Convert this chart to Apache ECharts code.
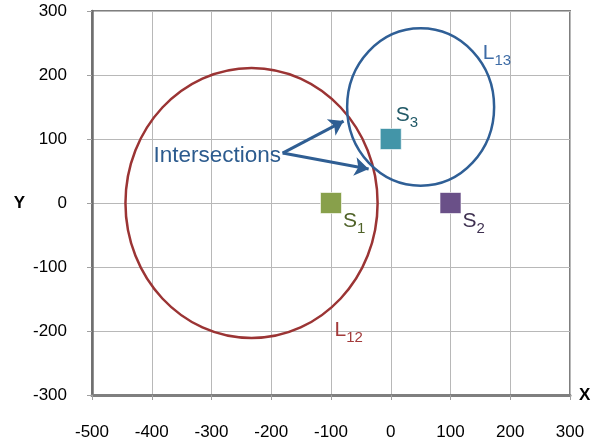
<!DOCTYPE html>
<html>
<head>
<meta charset="utf-8">
<script src="https://cdn.jsdelivr.net/npm/echarts@6/dist/echarts.min.js"></script>
<style>html,body{margin:0;padding:0;background:#fff}#c{width:600px;height:443px}</style>
</head>
<body>
<div id="c"></div>
<script>
// Axis ranges / ticks
const xTicks = [-500, -400, -300, -200, -100, 0, 100, 200, 300];
const yTicks = [-300, -200, -100, 0, 100, 200, 300];

// Stations (squares)
const stationNames = ['1', '2', '3'];
const stationX = [-100, 100, 0];
const stationY = [0, 0, 100];

// Circles: [centerX, centerY, radius]
const circleNames = ['12', '13'];
const circleCX = [-233, 50];
const circleCY = [0, 150];
const circleR = [211, 123];

// Arrows from the "Intersections" label to the intersection points
const arrowStart = [-181, 78];
const arrowEnds = [[-79, 128], [-37, 53]];

// Annotation anchors (data coordinates)
const circleLabelX = [-94, 154];
const circleLabelY = [-198, 234];
const intersectText = 'Intersections';
const intersectPos = [-397, 73];

const stationFill = ['#88A04B', '#6A5088', '#4395A8'];
const stationText = ['#4F6228', '#3F3151', '#215967'];
const circleColor = ['#9B3434', '#2F5F96'];
const circleText = ['#A33B3B', '#3E6CA6'];

const FONT = 'Liberation Sans';

const chart = echarts.init(document.getElementById('c'));

const stationSeries = stationNames.map((n, i) => ({
  type: 'scatter',
  symbol: 'rect',
  symbolSize: 21,
  data: [[stationX[i], stationY[i]]],
  itemStyle: { color: stationFill[i], opacity: 1, borderColor: 'rgba(255,255,255,0.6)', borderWidth: 1 },
  emphasis: { disabled: true },
  label: {
    show: true,
    position: 'inside',
    align: 'left',
    verticalAlign: 'middle',
    offset: i === 2 ? [5, -24] : [12, 18],
    opacity: 1,
    formatter: '{m|S}{s|' + n + '}',
    rich: {
      m: { fontSize: 21, fontFamily: FONT, color: stationText[i], verticalAlign: 'bottom' },
      s: { fontSize: 15, fontFamily: FONT, color: stationText[i], verticalAlign: 'bottom', padding: [0, 0, -5, 0] }
    }
  },
  z: 5
}));

chart.setOption({
  animation: false,
  grid: { left: 92, right: 30, top: 11, bottom: 48, show: true, borderColor: '#7f7f7f', borderWidth: 2 },
  xAxis: {
    type: 'value',
    min: xTicks[0], max: xTicks[xTicks.length - 1], interval: 100,
    name: 'X', nameLocation: 'end', nameGap: 9,
    nameTextStyle: { fontSize: 17, fontWeight: 'bold', fontFamily: FONT, color: '#000', verticalAlign: 'middle' },
    axisLine: { show: true, onZero: false, lineStyle: { color: '#7f7f7f', width: 3 } },
    axisTick: { show: true, length: 5, lineStyle: { color: '#a0a0a0' } },
    axisLabel: { margin: 29, fontSize: 17, fontFamily: FONT, color: '#000' },
    splitLine: { show: true, lineStyle: { color: '#b8b8b8', width: 1 } }
  },
  yAxis: {
    type: 'value',
    min: yTicks[0], max: yTicks[yTicks.length - 1], interval: 100,
    name: 'Y', nameLocation: 'middle', nameRotate: 0, nameGap: 67,
    nameTextStyle: { fontSize: 17, fontWeight: 'bold', fontFamily: FONT, color: '#000' },
    axisLine: { show: true, onZero: false, lineStyle: { color: '#6f6f6f', width: 2.5 } },
    axisTick: { show: true, length: 5, lineStyle: { color: '#a0a0a0' } },
    axisLabel: { margin: 25, fontSize: 17, fontFamily: FONT, color: '#000' },
    splitLine: { show: true, lineStyle: { color: '#b8b8b8', width: 1 } }
  },
  series: [
    {
      type: 'custom',
      data: circleNames.map((n, i) => [circleCX[i], circleCY[i], circleR[i], i]),
      renderItem: function (params, api) {
        const c = api.coord([api.value(0), api.value(1)]);
        const s = api.size([api.value(2), api.value(2)]);
        const idx = api.value(3);
        return {
          type: 'ellipse',
          shape: { cx: c[0], cy: c[1], rx: s[0], ry: s[1] },
          style: { fill: null, stroke: circleColor[idx], lineWidth: 2.5 }
        };
      },
      clip: false,
      silent: true,
      z: 3
    },
    ...stationSeries,
    {
      type: 'custom',
      data: circleNames.map((n, i) => [circleLabelX[i], circleLabelY[i], i]),
      renderItem: function (params, api) {
        const c = api.coord([api.value(0), api.value(1)]);
        const idx = api.value(2);
        const col = circleText[idx];
        return {
          type: 'text',
          x: c[0], y: c[1],
          style: {
            text: '{m|L}{s|' + circleNames[idx] + '}',
            align: 'left', verticalAlign: 'middle',
            rich: {
              m: { fontSize: 21, fontFamily: FONT, fill: col, verticalAlign: 'bottom' },
              s: { fontSize: 15, fontFamily: FONT, fill: col, verticalAlign: 'bottom', padding: [0, 0, -5, 0] }
            }
          }
        };
      },
      silent: true,
      z: 6
    },
    {
      type: 'custom',
      data: [[intersectPos[0], intersectPos[1]]],
      renderItem: function (params, api) {
        const c = api.coord([api.value(0), api.value(1)]);
        return {
          type: 'text',
          x: c[0], y: c[1],
          style: {
            text: intersectText,
            align: 'left', verticalAlign: 'middle',
            fontSize: 22.5, fontFamily: FONT, fill: '#2C5B8E'
          }
        };
      },
      silent: true,
      z: 6
    },
    {
      type: 'lines',
      coordinateSystem: 'cartesian2d',
      silent: true,
      symbol: ['none', 'arrow'],
      symbolSize: 14,
      lineStyle: { color: '#2F5E93', width: 3, opacity: 1 },
      data: arrowEnds.map(e => ({ coords: [arrowStart, e] })),
      z: 7
    }
  ]
});
</script>
</body>
</html>
